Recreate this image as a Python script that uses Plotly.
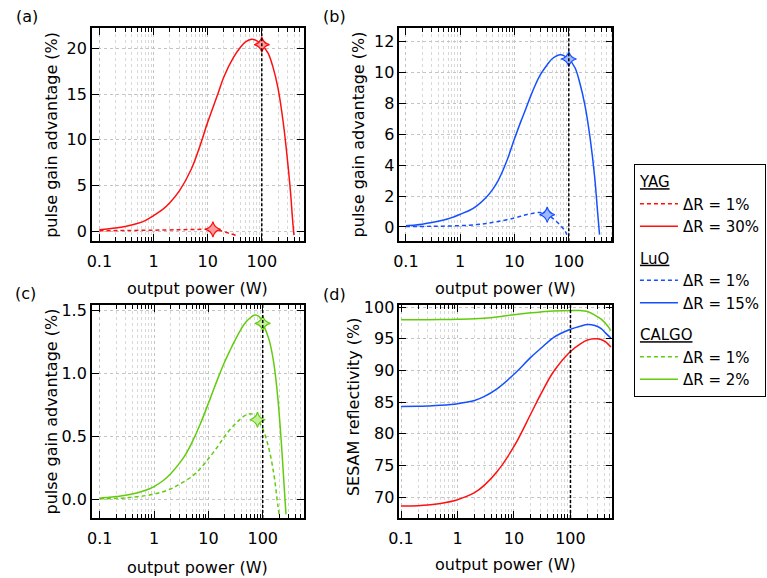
import plotly.graph_objects as go

# ---------------- data ----------------
# (a) YAG
yag30_x = [0.1, 0.2, 0.3, 0.5, 0.7, 1, 1.5, 2, 3, 5, 7, 10, 15, 20, 30, 40, 50, 65, 80, 100, 130, 160, 200, 250, 300, 340, 370, 393]
yag30_y = [0.15, 0.33, 0.5, 0.83, 1.15, 1.7, 2.4, 3.1, 4.4, 6.8, 9.1, 11.9, 14.8, 16.9, 19.0, 20.1, 20.7, 21.0, 20.85, 20.4, 19.5, 18.0, 15.6, 11.8, 7.6, 4.2, 1.3, -0.45]
yag1_x = [0.1, 0.3, 1, 3, 6, 10, 12.5, 16, 21, 27, 33]
yag1_y = [0.03, 0.06, 0.1, 0.15, 0.18, 0.2, 0.18, 0.08, -0.1, -0.3, -0.45]
yag_mark_x = [12.5, 100]
yag_mark_y = [0.18, 20.4]

# (b) LuO
luo15_x = [0.1, 0.15, 0.2, 0.3, 0.5, 0.7, 1, 1.5, 2, 3, 4, 5, 7, 10, 13, 16, 20, 25, 30, 40, 50, 70, 100, 130, 160, 200, 250, 300, 340, 368]
luo15_y = [0.08, 0.13, 0.18, 0.28, 0.45, 0.6, 0.82, 1.08, 1.35, 1.9, 2.45, 3.0, 4.15, 5.7, 6.8, 7.6, 8.5, 9.3, 9.85, 10.5, 10.9, 11.15, 10.87, 10.3, 9.3, 7.8, 5.6, 3.2, 0.9, -0.5]
luo1_x = [0.1, 0.3, 1, 2, 3, 5, 10, 15, 20, 30, 40, 55, 70, 85, 92]
luo1_y = [0.02, 0.04, 0.08, 0.15, 0.22, 0.35, 0.58, 0.75, 0.86, 0.93, 0.79, 0.45, 0.1, -0.25, -0.5]
luo_mark_x = [40, 100]
luo_mark_y = [0.79, 10.87]

# (c) CALGO
calgo2_x = [0.1, 0.15, 0.2, 0.3, 0.5, 0.7, 1, 1.5, 2, 3, 4, 5, 7, 10, 13, 16, 20, 25, 30, 40, 50, 70, 85, 100, 130, 160, 190, 220, 250, 268]
calgo2_y = [0.008, 0.014, 0.02, 0.03, 0.05, 0.07, 0.1, 0.15, 0.2, 0.29, 0.37, 0.45, 0.59, 0.76, 0.89, 0.99, 1.09, 1.18, 1.25, 1.35, 1.41, 1.46, 1.45, 1.395, 1.27, 1.08, 0.8, 0.45, 0.08, -0.12]
calgo1_x = [0.1, 0.3, 1, 2, 3, 5, 7, 10, 15, 20, 30, 40, 50, 65, 80, 100, 130, 160, 190, 200]
calgo1_y = [0.003, 0.01, 0.04, 0.08, 0.12, 0.18, 0.24, 0.32, 0.42, 0.5, 0.59, 0.64, 0.67, 0.675, 0.63, 0.56, 0.4, 0.2, -0.05, -0.12]
calgo_mark_x = [80, 100]
calgo_mark_y = [0.63, 1.395]

# (d) SESAM reflectivity
refl_x = [0.1, 0.2, 0.3, 0.5, 1, 2, 3, 5, 10, 20, 30, 50, 100, 150, 200, 270, 350, 420, 520]
refl_calgo = [98.0, 98.0, 98.02, 98.04, 98.08, 98.15, 98.25, 98.45, 98.8, 99.1, 99.25, 99.4, 99.48, 99.45, 99.3, 98.75, 98.1, 97.4, 96.3]
refl_luo = [84.33, 84.35, 84.4, 84.5, 84.75, 85.25, 85.9, 87.1, 89.4, 92.1, 93.5, 95.2, 96.5, 97.0, 97.25, 97.1, 96.6, 95.9, 95.1]
refl_yag = [68.6, 68.65, 68.75, 69.0, 69.6, 70.7, 71.9, 74.0, 78.0, 83.2, 86.3, 89.8, 93.0, 94.2, 94.8, 95.0, 94.9, 94.5, 93.7]

ref_power = 100  # vertical reference line (W)

x_tick_vals = [0.1, 1, 10, 100]
x_tick_text = ["0.1", "1", "10", "100"]
x_minor_vals = [m * d for d in (0.1, 1, 10, 100) for m in range(2, 10)]

# ---------------- styling ----------------
FONT = "DejaVu Sans"
RED, RED_L = "#ff1010", "#ff9c9c"
BLUE, BLUE_L = "#1550ff", "#9fb8ff"
GREEN, GREEN_L = "#62cc0c", "#c4ee9c"
DASH = "4px,3px"
W, H = 767, 578

def px_x(p):
    return p / W

def px_y(p):
    return 1 - p / H

fig = go.Figure()

def line(x, y, xa, ya, color, dash, name, group, gtitle=None, show=True):
    fig.add_trace(go.Scatter(
        x=x, y=y, xaxis=xa, yaxis=ya, mode="lines", name=name,
        line=dict(color=color, width=1.5, dash=dash, shape="spline", smoothing=1.0),
        legendgroup=group, showlegend=show,
        legendgrouptitle=dict(text=gtitle) if gtitle else None,
        hoverinfo="skip"))

def marks(x, y, xa, ya, color, fill):
    fig.add_trace(go.Scatter(
        x=x, y=y, xaxis=xa, yaxis=ya, mode="markers", showlegend=False,
        marker=dict(symbol="star-diamond", size=11, color=fill,
                    line=dict(color=color, width=1.2)),
        hoverinfo="skip"))

# (a)
line(yag1_x, yag1_y, "x", "y", RED, DASH, "ΔR = 1%", "yag", "<u>YAG</u>")
line(yag30_x, yag30_y, "x", "y", RED, "solid", "ΔR = 30%", "yag")
marks(yag_mark_x, yag_mark_y, "x", "y", RED, RED_L)
# (b)
line(luo1_x, luo1_y, "x2", "y2", BLUE, DASH, "ΔR = 1%", "luo", "<u>LuO</u>")
line(luo15_x, luo15_y, "x2", "y2", BLUE, "solid", "ΔR = 15%", "luo")
marks(luo_mark_x, luo_mark_y, "x2", "y2", BLUE, BLUE_L)
# (c)
line(calgo1_x, calgo1_y, "x3", "y3", GREEN, DASH, "ΔR = 1%", "calgo", "<u>CALGO</u>")
line(calgo2_x, calgo2_y, "x3", "y3", GREEN, "solid", "ΔR = 2%", "calgo")
marks(calgo_mark_x, calgo_mark_y, "x3", "y3", GREEN, GREEN_L)
# (d)
line(refl_x, refl_calgo, "x4", "y4", GREEN, "solid", "calgo", "calgo", show=False)
line(refl_x, refl_luo, "x4", "y4", BLUE, "solid", "luo", "luo", show=False)
line(refl_x, refl_yag, "x4", "y4", RED, "solid", "yag", "yag", show=False)

tickfont = dict(family=FONT, size=16, color="black")

def xaxis(dom, rng, anchor):
    return dict(
        type="log", domain=dom, range=rng, anchor=anchor,
        tickvals=x_tick_vals, ticktext=x_tick_text,
        ticks="inside", ticklen=7, tickwidth=1, tickcolor="black",
        showline=True, linecolor="black", linewidth=1.5, mirror="allticks",
        showgrid=True, gridcolor="#c4c4c4", griddash="dot", gridwidth=1,
        minor=dict(tickvals=x_minor_vals, ticks="inside", ticklen=4, tickcolor="black",
                   showgrid=True, gridcolor="#d8d8d8", griddash="dot", gridwidth=1),
        tickfont=tickfont, ticklabelstandoff=5, zeroline=False, fixedrange=True)

def yaxis(dom, rng, anchor, vals, fmt):
    return dict(
        domain=dom, range=rng, anchor=anchor, tickvals=vals, tickformat=fmt,
        ticks="inside", ticklen=7, tickwidth=1, tickcolor="black",
        showline=True, linecolor="black", linewidth=1.5, mirror="allticks",
        showgrid=True, gridcolor="#c4c4c4", griddash="dot", gridwidth=1,
        tickfont=tickfont, ticklabelstandoff=0, zeroline=False, fixedrange=True)

xa_l = [px_x(82), px_x(297)]
xa_r = [px_x(394), px_x(610)]
ya_t = [px_y(237), px_y(21.5)]
ya_b = [px_y(517.3), px_y(301.5)]

fig.update_layout(
    width=W, height=H, margin=dict(l=0, r=0, t=0, b=0),
    paper_bgcolor="white", plot_bgcolor="white",
    font=dict(family=FONT, size=16, color="black"),
    xaxis=xaxis(xa_l, [-1.14, 2.775], "y"),
    yaxis=yaxis(ya_t, [-1.1, 22.2], "x", [0, 5, 10, 15, 20], "d"),
    xaxis2=xaxis(xa_r, [-1.12, 2.8], "y2"),
    yaxis2=yaxis(ya_t, [-0.92, 12.86], "x2", [0, 2, 4, 6, 8, 10, 12], "d"),
    xaxis3=xaxis(xa_l, [-1.145, 2.755], "y3"),
    yaxis3=yaxis(ya_b, [-0.15, 1.542], "x3", [0, 0.5, 1.0, 1.5], ".1f"),
    xaxis4=xaxis(xa_r, [-1.03, 2.74], "y4"),
    yaxis4=yaxis(ya_b, [66.7, 100.36], "x4", [70, 75, 80, 85, 90, 95, 100], "d"),
    legend=dict(x=px_x(632), y=px_y(159), xanchor="left", yanchor="top",
                bordercolor="black", borderwidth=1, bgcolor="white",
                font=dict(family=FONT, size=15, color="black"),
                grouptitlefont=dict(family=FONT, size=15, color="black"),
                traceorder="grouped", tracegroupgap=9, itemwidth=38),
    showlegend=True,
)

# reference lines at the nominal output power
for xr, yr in (("x", "y"), ("x2", "y2"), ("x3", "y3"), ("x4", "y4")):
    fig.add_shape(type="line", xref=xr, yref=f"{yr} domain", x0=ref_power, x1=ref_power,
                  y0=0, y1=1, line=dict(color="black", width=1.5, dash="3px,2px"), layer="above")

ann = []
def text(s, x, y, angle=0):
    ann.append(dict(text=s, x=px_x(x), y=px_y(y), xref="paper", yref="paper",
                    showarrow=False, textangle=angle, xanchor="center", yanchor="middle",
                    font=dict(family=FONT, size=16, color="black")))

text("(a)", 16, 10)
text("(b)", 328, 10)
text("(c)", 15, 290)
text("(d)", 328, 291)
text("output power (W)", 189.5, 285)
text("output power (W)", 502, 285)
text("output power (W)", 189.5, 567)
text("output power (W)", 502, 564)
text("pulse gain advantage (%)", 41, 129, -90)
text("pulse gain advantage (%)", 353, 129, -90)
text("pulse gain advantage (%)", 41, 409, -90)
text("SESAM reflectivity (%)", 347, 405, -90)
fig.update_layout(annotations=ann)

fig.write_html("out.html")
